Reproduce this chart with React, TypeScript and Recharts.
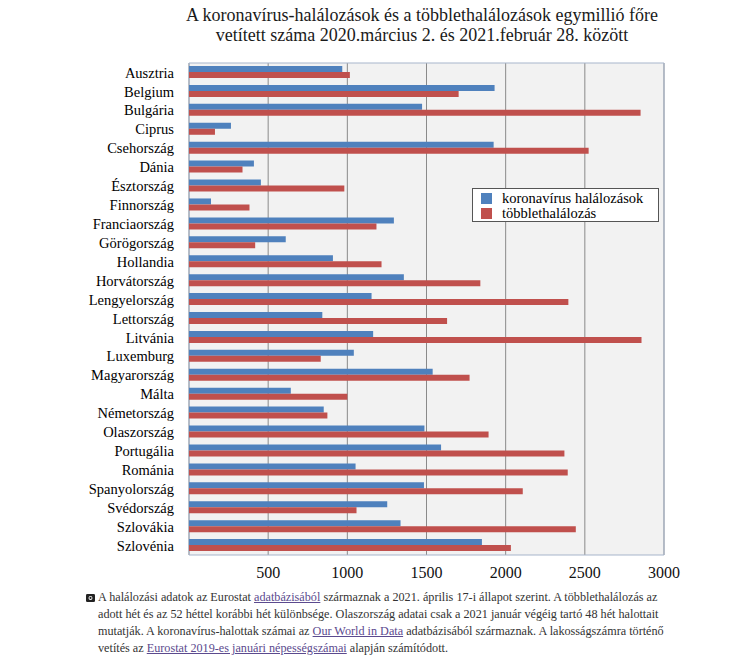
import React from "react";
import { BarChart, Bar, XAxis, YAxis, CartesianGrid, ReferenceArea } from "recharts";

const countries = [
  "Ausztria", "Belgium", "Bulgária", "Ciprus", "Csehország", "Dánia", "Észtország",
  "Finnország", "Franciaország", "Görögország", "Hollandia", "Horvátország",
  "Lengyelország", "Lettország", "Litvánia", "Luxemburg", "Magyarország", "Málta",
  "Németország", "Olaszország", "Portugália", "Románia", "Spanyolország",
  "Svédország", "Szlovákia", "Szlovénia",
];
const covidDeaths = [
  968, 1930, 1472, 265, 1924, 410, 454, 139, 1294, 611, 909, 1357, 1153, 842, 1163,
  1041, 1539, 643, 851, 1487, 1592, 1052, 1484, 1252, 1336, 1850,
];
const excessDeaths = [
  1016, 1703, 2852, 164, 2524, 338, 981, 382, 1184, 418, 1216, 1840, 2396, 1630, 2858,
  832, 1772, 1000, 874, 1892, 2371, 2392, 2108, 1058, 2443, 2033,
];
const xTicks = [500, 1000, 1500, 2000, 2500, 3000];
const seriesNames = ["koronavírus halálozások", "többlethalálozás"];
const titleLines = [
  "A koronavírus-halálozások és a többlethalálozások  egymillió főre",
  "vetített száma 2020.március 2. és 2021.február 28. között",
];

const BLUE = "#4f81bd";
const RED = "#c0504d";
const SERIF = "'Liberation Serif', 'DejaVu Serif', serif";

const data = countries.map((c, i) => ({
  country: c,
  covid: covidDeaths[i],
  excess: excessDeaths[i],
}));

const LegendBox = () => (
  <div
    style={{
      position: "absolute",
      left: 472,
      top: 188,
      boxSizing: "border-box",
      width: 187,
      height: 34,
      background: "#fff",
      border: "1px solid #555",
      padding: "2px 8px",
      fontFamily: SERIF,
      fontSize: 14.5,
      color: "#000",
      lineHeight: "15px",
    }}
  >
    {[BLUE, RED].map((col, i) => (
      <div key={i} style={{ display: "flex", alignItems: "center" }}>
        <span style={{ display: "inline-block", width: 11, height: 11, background: col, marginRight: 10 }} />
        <span>{seriesNames[i]}</span>
      </div>
    ))}
  </div>
);

const Link = ({ children }: { children: React.ReactNode }) => (
  <span style={{ color: "#5b4a8e", textDecoration: "underline" }}>{children}</span>
);

export default function App() {
  return (
    <div style={{ position: "absolute", left: 0, top: 0, width: 754, height: 659, background: "#fff", overflow: "hidden" }}>
      <div
        style={{
          position: "absolute",
          left: 0,
          top: 5,
          width: 844,
          textAlign: "center",
          fontFamily: SERIF,
          fontSize: 18,
          lineHeight: "20px",
          color: "#1a1a1a",
        }}
      >
        <div>{titleLines[0]}</div>
        <div>{titleLines[1]}</div>
      </div>
      <div style={{ position: "absolute", left: 0, top: 0 }}>
        <BarChart
          width={754}
          height={600}
          data={data}
          layout="vertical"
          margin={{ top: 63, right: 90, bottom: 15, left: 0 }}
          barGap={0}
        >
          <CartesianGrid horizontal={false} vertical={true} stroke="#8a8a8a" fill="#f2f2f2" fillOpacity={1} />
          <XAxis
            type="number"
            domain={[0, 3000]}
            ticks={xTicks}
            interval={0}
            axisLine={false}
            tickLine={false}
            tickSize={0}
            tickMargin={12}
            height={30}
            tick={{ fontSize: 16, fill: "#111", fontFamily: SERIF }}
          />
          <YAxis
            type="category"
            dataKey="country"
            width={189}
            axisLine={false}
            tickLine={false}
            tickSize={0}
            tickMargin={15}
            interval={0}
            tick={{ fontSize: 14.5, fill: "#000", fontFamily: SERIF }}
          />
          <ReferenceArea x1={0} x2={3000} fill="none" stroke="#a7b5cb" strokeWidth={1} ifOverflow="visible" />
          <Bar dataKey="covid" name={seriesNames[0]} fill={BLUE} barSize={6} isAnimationActive={false} />
          <Bar dataKey="excess" name={seriesNames[1]} fill={RED} barSize={6} isAnimationActive={false} />
        </BarChart>
      </div>
      <LegendBox />
      <div
        style={{
          position: "absolute",
          left: 86,
          top: 589,
          fontFamily: SERIF,
          fontSize: 12.2,
          lineHeight: "17px",
          color: "#333",
          whiteSpace: "nowrap",
        }}
      >
        <div style={{ display: "flex", alignItems: "center" }}>
          <svg width="9" height="9" viewBox="0 0 10 10" style={{ marginRight: 3 }}>
            <rect x="0" y="1" width="10" height="9" rx="1.5" fill="#222" />
            <circle cx="5" cy="5.5" r="2.2" fill="#fff" />
            <circle cx="5" cy="5.5" r="1.2" fill="#222" />
          </svg>
          <span>
            A halálozási adatok az Eurostat <Link>adatbázisából</Link> származnak a 2021. április 17-i állapot szerint. A többlethalálozás az
          </span>
        </div>
        <div style={{ paddingLeft: 12 }}>
          adott hét és az 52 héttel korábbi hét különbsége. Olaszország adatai csak a 2021 január végéig tartó 48 hét halottait
        </div>
        <div style={{ paddingLeft: 12 }}>
          mutatják. A koronavírus-halottak számai az <Link>Our World in Data</Link> adatbázisából származnak. A lakosságszámra történő
        </div>
        <div style={{ paddingLeft: 12 }}>
          vetítés az <Link>Eurostat 2019-es januári népességszámai</Link> alapján számítódott.
        </div>
      </div>
    </div>
  );
}
